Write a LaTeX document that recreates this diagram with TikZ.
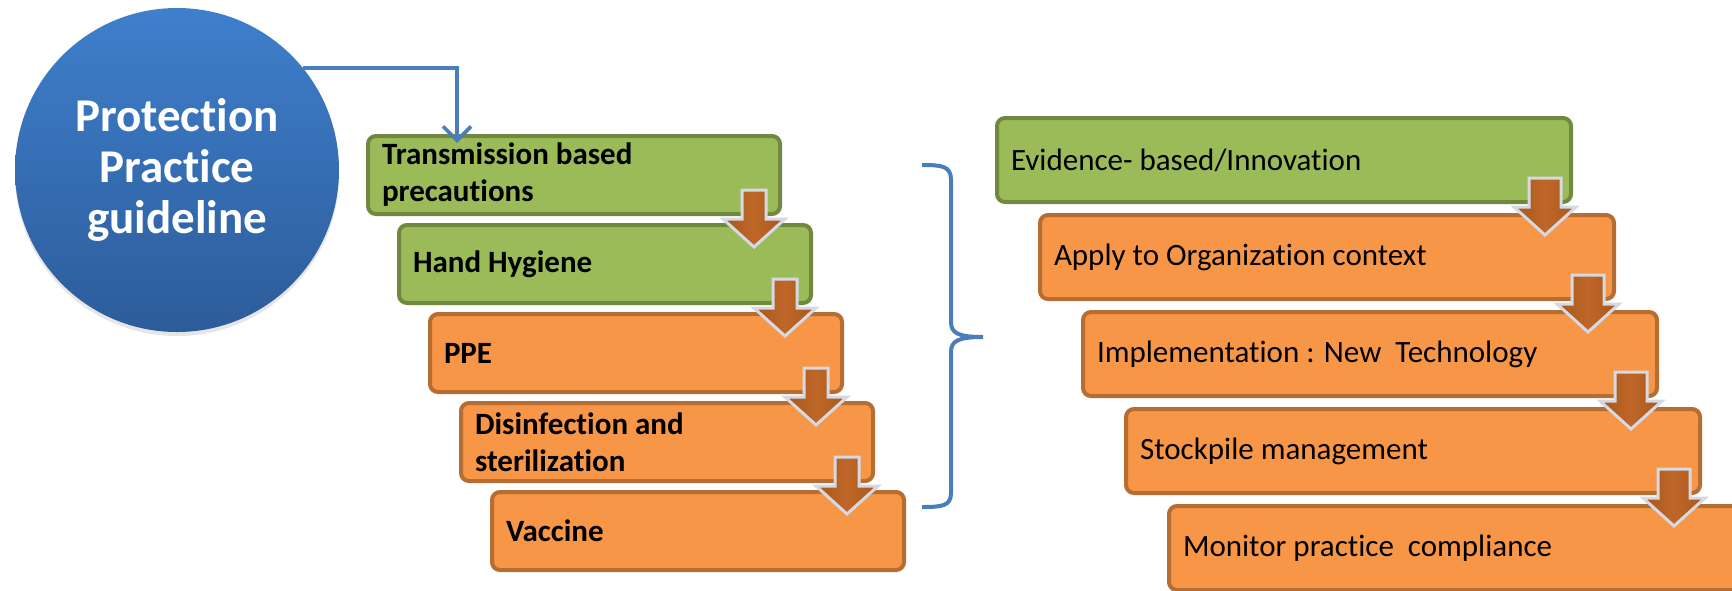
\documentclass[tikz,border=0pt]{standalone}
\usepackage{fontspec}
\setmainfont{Carlito}[Ligatures=NoCommon]
\usetikzlibrary{positioning, arrows.meta, shadows}

\definecolor{stepgreen}{HTML}{9BBB59}
\definecolor{stepgreenline}{HTML}{71893F}
\definecolor{steporange}{HTML}{F79646}
\definecolor{steporangeline}{HTML}{B66D31}
\definecolor{guidetop}{HTML}{3F7FCC}
\definecolor{guidebottom}{HTML}{2C5C9A}
\definecolor{linkblue}{HTML}{4A7EBB}
\definecolor{arrowbrown}{HTML}{A9561B}
\definecolor{arrowmid}{HTML}{BE6728}
\definecolor{arrowrim}{HTML}{D5D9E4}

\tikzset{
	stepbox/.style={draw, rounded corners=4pt, line width=2pt, align=flush left, inner xsep=7pt, inner ysep=0pt},
	leftstep/.style={stepbox, text width=192pt, minimum height=39pt, font=\bfseries\fontsize{15.5}{18.5}\selectfont},
	rightstep/.style={stepbox, text width=273pt, minimum height=42pt, font=\fontsize{15.5}{18.5}\selectfont},
	greenfill/.style={fill=stepgreen, draw=stepgreenline},
	orangefill/.style={fill=steporange, draw=steporangeline},
	link/.style={draw=linkblue, line width=1.8pt, -{Straight Barb[length=7pt,width=14pt]}},
	downarrow/.style={draw=arrowrim, line width=1.5pt, left color=arrowbrown, right color=arrowbrown, middle color=arrowmid},
}

% block arrow hanging below the right end of a step
\newcommand{\stepdown}[2]{%
	\draw[downarrow, shift={(#1.south east)}, xshift=-14pt]
		(-#2,13pt) -- (#2,13pt) -- (#2,-1.5pt) -- (15.5pt,-1.5pt)
		-- (0pt,-15.5pt) -- (-15.5pt,-1.5pt) -- (-#2,-1.5pt) -- cycle;
}

\begin{document}
\begin{tikzpicture}[x=0.5pt, y=-0.5pt]
	\useasboundingbox (0,0) rectangle (1732,590);
	\clip (0,0) rectangle (1732,590);

	\node (guide) [circle, minimum size=162pt, top color=guidetop, bottom color=guidebottom,
		text=white, align=center, font=\bfseries\fontsize{23.5}{25.5}\selectfont,
		drop shadow={opacity=0.2, shadow xshift=0pt, shadow yshift=-2pt}]
		at (177,170) {Protection\\Practice\\guideline};

	% left stair
	\node (trans) [leftstep, greenfill, anchor=north west] at (366,134) {Transmission based\\precautions};
	\node (hand) [leftstep, greenfill, below=3.5pt of trans.south west, anchor=north west, xshift=15.5pt] {Hand Hygiene};
	\node (ppe) [leftstep, orangefill, below=3.5pt of hand.south west, anchor=north west, xshift=15.5pt] {PPE};
	\node (disinf) [leftstep, orangefill, below=3.5pt of ppe.south west, anchor=north west, xshift=15.5pt] {Disinfection and\\sterilization};
	\node (vaccine) [leftstep, orangefill, below=3.5pt of disinf.south west, anchor=north west, xshift=15.5pt] {Vaccine};

	% right stair
	\node (evidence) [rightstep, greenfill, anchor=north west] at (995,116) {Evidence- based/Innovation};
	\node (apply) [rightstep, orangefill, below=4.5pt of evidence.south west, anchor=north west, xshift=21.5pt] {Apply to Organization context};
	\node (implement) [rightstep, orangefill, below=4.5pt of apply.south west, anchor=north west, xshift=21.5pt] {Implementation : New\ \ Technology};
	\node (stock) [rightstep, orangefill, below=4.5pt of implement.south west, anchor=north west, xshift=21.5pt] {Stockpile management};
	\node (monitor) [rightstep, orangefill, below=4.5pt of stock.south west, anchor=north west, xshift=21.5pt] {Monitor practice\ \ compliance};

	\draw[link] (guide.39) -| ([xshift=45.5pt, yshift=-4.5pt]trans.north west);

	% brace
	\draw[linkblue, line width=2pt]
		(922,165) .. controls (942,165) and (951,166) .. (951,180)
		-- (951,322) .. controls (951,333) and (958,337) .. (983,337)
		.. controls (958,337) and (951,341) .. (951,352)
		-- (951,493) .. controls (951,506) and (942,507) .. (922,507);

	\stepdown{trans}{6pt}
	\stepdown{hand}{6pt}
	\stepdown{ppe}{6pt}
	\stepdown{disinf}{6pt}
	\stepdown{evidence}{8pt}
	\stepdown{apply}{8pt}
	\stepdown{implement}{8pt}
	\stepdown{stock}{8pt}
\end{tikzpicture}
\end{document}
